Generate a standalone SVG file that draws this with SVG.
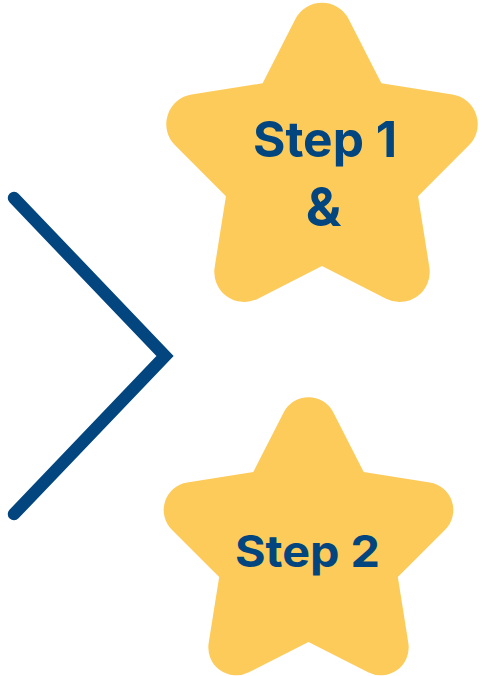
<svg xmlns="http://www.w3.org/2000/svg" xmlns:xlink="http://www.w3.org/1999/xlink" width="482" height="676" viewBox="0 0 482 676">
  <style>
    .star { fill: #FDCB5A; }
    .label { font-family: "Inter", "Liberation Sans", Arial, sans-serif; font-weight: bold; fill: #03457F; text-anchor: middle; }
    .chev { fill: none; stroke: #03457F; stroke-width: 12.5; stroke-linecap: round; stroke-linejoin: miter; }
  </style>
  <defs>
    <path id="starShape" d="M -26.73,-145.81 A30 30 0 0 1 26.73,-145.81 L 59.37,-81.71 L 130.41,-70.48 A30 30 0 0 1 146.93,-19.64 L 96.06,31.21 L 107.34,102.25 A30 30 0 0 1 64.08,133.67 L 0,101 L -64.08,133.67 A30 30 0 0 1 -107.34,102.25 L -96.06,31.21 L -146.93,-19.64 A30 30 0 0 1 -130.41,-70.48 L -59.37,-81.71 Z"/>
  </defs>
  <rect width="482" height="676" fill="#FFFFFF"/>
  <g id="chevron">
    <polyline class="chev" points="14,198 165,356 14,514"/>
  </g>
  <g id="step1">
    <use xlink:href="#starShape" href="#starShape" class="star" transform="translate(322,165)"/>
    <text class="label" x="325" y="157" font-size="49" textLength="144" lengthAdjust="spacingAndGlyphs">Step 1</text>
    <text class="label" x="323.5" y="225.5" font-size="53">&amp;</text>
  </g>
  <g id="step2">
    <use xlink:href="#starShape" href="#starShape" class="star" transform="translate(308.5,548) scale(0.93)"/>
    <text class="label" x="307.5" y="567" font-size="44" textLength="145" lengthAdjust="spacingAndGlyphs">Step 2</text>
  </g>
</svg>
